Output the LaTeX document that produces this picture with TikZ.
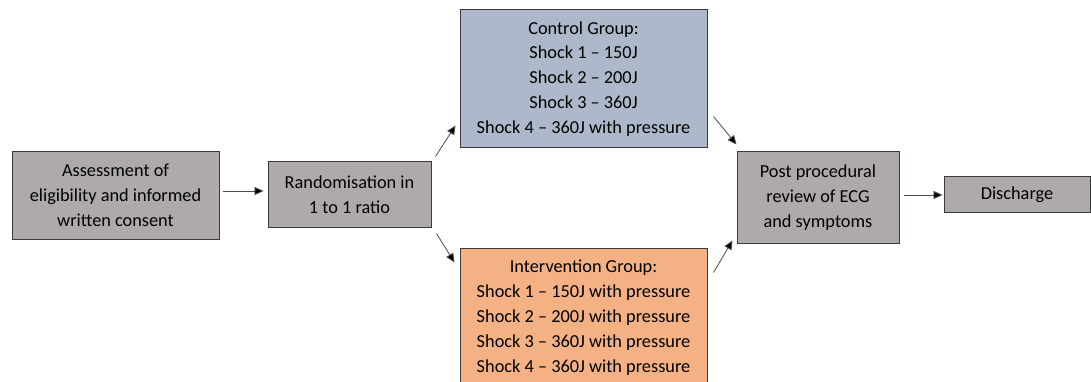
\documentclass[tikz,border=0pt]{standalone}
\usepackage{fontspec}
\setmainfont{Carlito}
\usetikzlibrary{arrows.meta,calc}
\definecolor{boxgray}{HTML}{AEAAAA}
\definecolor{boxblue}{HTML}{ADB9CA}
\definecolor{boxorange}{HTML}{F4B183}
\definecolor{edge}{HTML}{3A3A3A}
\tikzset{
  box/.style={draw=edge, line width=1pt, inner sep=0pt, align=center,
    font=\fontsize{18.3}{24.9}\selectfont, text=black},
  arr/.style={draw=black!70, line width=0.8pt, -{Triangle[length=9pt,width=8pt,fill=black]}}
}
\begin{document}
\begin{tikzpicture}[x=1pt,y=-1pt]
\clip (0,0) rectangle (1091,382);
\fill[white] (0,0) rectangle (1091,382);
\node[box, fill=boxgray, minimum width=207, minimum height=87] (assess) at (115.5,195.5)
  {Assessment of\\eligibility and informed\\written consent};
\node[box, fill=boxgray, minimum width=163, minimum height=65] (rand) at (349.5,194.5)
  {Randomisation in\\1 to 1 ratio};
\node[box, fill=boxblue, minimum width=247, minimum height=138] (ctrl) at (583.5,79)
  {Control Group:\\Shock 1 -- 150J\\Shock 2 -- 200J\\Shock 3 -- 360J\\Shock 4 -- 360J with pressure};
\node[box, fill=boxorange, minimum width=247, minimum height=139] (interv) at (583.5,317.5)
  {Intervention Group:\\Shock 1 -- 150J with pressure\\Shock 2 -- 200J with pressure\\Shock 3 -- 360J with pressure\\Shock 4 -- 360J with pressure};
\node[box, fill=boxgray, minimum width=162, minimum height=91] (post) at (818,197.5)
  {Post procedural\\review of ECG\\and symptoms};
\node[box, fill=boxgray, minimum width=146, minimum height=35, text depth=2pt] (disch) at (1017,194.5)
  {Discharge};
\draw[arr] ([shift={(3,-4.5)}]assess.east) -- ([shift={(-4,-3.5)}]rand.west);
\draw[arr] ([shift={(4,-5)}]rand.north east) -- ([shift={(-4,-23)}]ctrl.south west);
\draw[arr] ([shift={(5,6)}]rand.south east) -- ([shift={(-5,15)}]interv.north west);
\draw[arr] ([shift={(6,-32)}]ctrl.south east) -- ([shift={(0,-7)}]post.north west);
\draw[arr] ([shift={(6,25)}]interv.north east) -- ([shift={(-4,-3)}]post.south west);
\draw[arr] ([shift={(4,-2.5)}]post.east) -- ([shift={(-1,0.5)}]disch.west);
\end{tikzpicture}
\end{document}
